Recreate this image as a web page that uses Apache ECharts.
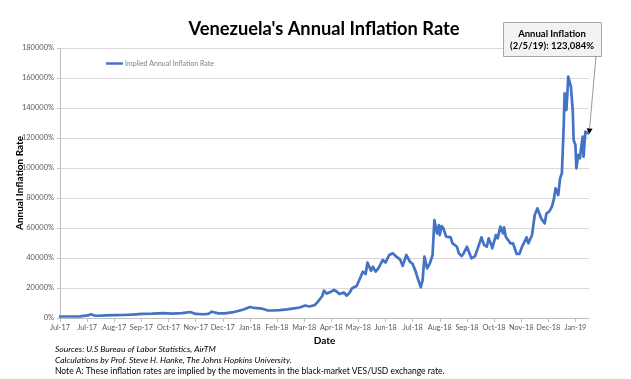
<!DOCTYPE html>
<html>
<head>
<meta charset="utf-8">
<script src="https://cdn.jsdelivr.net/npm/echarts@6/dist/echarts.min.js"></script>
<style>
html,body{margin:0;padding:0;background:#fff;}
#main{width:631px;height:379px;}
</style>
</head>
<body>
<div id="main"></div>
<script>
const tickLabels = ['Jul-17','Jul-17','Aug-17','Sep-17','Oct-17','Nov-17','Dec-17','Jan-18','Feb-18','Mar-18','Apr-18','May-18','Jun-18','Jul-18','Aug-18','Sep-18','Oct-18','Nov-18','Dec-18','Jan-19'];
const tickStepDays = 30;
// days since 1 Jul 2017
const dayOffsets = [0,11,22,31,34,39,43,50,61,69,
  80,91,102,114,124,135,144,150,158,164,
  168,175,182,190,197,203,210,215,223,230,
  236,243,251,257,265,271,276,282,285,290,
  292,295,299,303,306,309,314,317,320,323,
  328,331,335,338,340,344,346,349,352,357,
  360,364,368,372,376,379,383,387,390,393,
  396,399,401,403,406,409,412,414,415,417,
  419,420,422,424,427,429,432,434,436,439,
  441,444,446,450,452,455,459,462,466,469,
  472,474,477,478,482,484,487,490,491,493,
  495,498,501,505,508,511,516,518,522,525,
  528,532,536,538,541,544,546,548,551,553,
  555,557,558,560,561,562,564,565,567,568,
  570,571,573,575,576,578,579,581,584];
const inflationRates = [1000,1000,1100,1700,2500,1500,1500,1700,1900,2000,
  2300,2700,2900,3300,2900,3300,4000,2700,2500,2800,
  4200,3100,3100,3700,4700,5700,7300,6700,6300,5000,
  5000,5300,5800,6300,7000,8300,7700,8700,10700,14700,
  18300,16300,17300,18700,17700,16000,17000,14900,16700,19800,
  21300,25300,30900,29300,36900,31500,34200,30900,33100,38700,
  36900,42000,43100,40900,39100,34700,42000,37500,36000,31500,
  25800,20500,25300,40900,33100,36400,42000,65300,66000,56400,
  62000,55300,61300,59800,54200,53100,53800,49800,50900,47500,
  43100,41300,42700,47500,46400,39800,41300,46400,53800,48700,
  47500,53100,48700,46400,55300,53100,60900,56400,60500,54200,
  53100,49800,49800,42700,42700,47500,53800,49800,55300,68700,
  73100,66500,63100,69800,70900,74200,78700,86400,82000,93100,
  96500,127600,149800,138700,148700,160900,162000,154200,138700,118700,
  115300,99800,108700,106500,112000,120900,107500,124200,123084];
const seriesName = 'Implied Annual Inflation Rate';
const annotationLines = ['Annual Inflation', '(2/5/19): 123,084%'];
const footerLines = [
  'Sources: U.S Bureau of Labor Statistics, AirTM',
  'Calculations by Prof. Steve H. Hanke, The Johns Hopkins University.',
  'Note A: These inflation rates are implied by the movements in the black-market VES/USD exchange rate.'
];

const FONT = 'Lato, "Open Sans", sans-serif';
const tickDays = tickLabels.map((_, i) => i * tickStepDays);
const chart = echarts.init(document.getElementById('main'), null, {renderer: 'canvas'});

const option = {
  animation: false,
  backgroundColor: '#ffffff',
  textStyle: {fontFamily: FONT},
  grid: {left: 60, right: 42, top: 48, bottom: 61},
  legend: {
    data: [seriesName], left: 101, top: 55, icon: 'rect',
    itemWidth: 17, itemHeight: 2.5, itemGap: 2,
    textStyle: {fontSize: 7, color: '#7f7f7f', fontFamily: FONT, padding: [0,0,0,-3]}
  },
  xAxis: {
    type: 'value', min: 0, max: 585, interval: tickStepDays,
    axisLine: {show: true, lineStyle: {color: '#bfbfbf', width: 1}},
    axisTick: {show: true, length: 4, customValues: tickDays, lineStyle: {color: '#bfbfbf'}},
    axisLabel: {customValues: tickDays, formatter: v => tickLabels[Math.round(v / tickStepDays)] || '',
      fontSize: 7.3, color: '#595959', margin: 6, fontFamily: FONT, hideOverlap: false},
    splitLine: {show: false},
    name: 'Date', nameLocation: 'middle', nameGap: 18, nameMoveOverlap: false,
    nameTextStyle: {fontWeight: 'bold', fontSize: 10, color: '#000', fontFamily: FONT, verticalAlign: 'top'}
  },
  yAxis: {
    type: 'value', min: 0, max: 180000, interval: 20000,
    axisLine: {show: true, lineStyle: {color: '#bfbfbf', width: 1}},
    axisTick: {show: true, length: 3, lineStyle: {color: '#bfbfbf'}},
    axisLabel: {formatter: v => v + '%', fontSize: 7.5, color: '#595959', margin: 6, fontFamily: FONT},
    splitLine: {show: true, lineStyle: {color: '#d9d9d9', width: 1}},
    name: 'Annual Inflation Rate', nameLocation: 'middle', nameGap: 35, nameMoveOverlap: false,
    nameTextStyle: {fontWeight: 'bold', fontSize: 10, color: '#000', fontFamily: FONT}
  },
  series: [{
    name: seriesName, type: 'line', showSymbol: false, symbol: 'none',
    data: dayOffsets.map((d, i) => [d, inflationRates[i]]),
    lineStyle: {color: '#4472C4', width: 2.7, join: 'round', cap: 'round'},
    itemStyle: {color: '#4472C4'}
  }]
};
chart.setOption(option);

// annotation arrow end computed through the chart's own scales
const lastIdx = dayOffsets.length - 1;
const tip = chart.convertToPixel({seriesIndex: 0}, [dayOffsets[lastIdx], inflationRates[lastIdx]]);
const start = [596, 56];
const end = [tip[0] + 1, tip[1] + 1];
const dx = end[0] - start[0], dy = end[1] - start[1];
const len = Math.sqrt(dx * dx + dy * dy);
const ux = dx / len, uy = dy / len;
const headLen = 6, headHalf = 3;
const base = [end[0] - ux * headLen, end[1] - uy * headLen];
const px = -uy, py = ux;

chart.setOption({
  graphic: [
    {type: 'text', x: 324, y: 29, style: {text: "Venezuela's Annual Inflation Rate", fontFamily: FONT,
      fontSize: 18.3, fontWeight: 'bold', fill: '#000', textAlign: 'center', textVerticalAlign: 'middle'}},
    {type: 'rect', shape: {x: 503.5, y: 22.5, width: 98, height: 34},
      style: {fill: '#f2f2f2', stroke: '#a6a6a6', lineWidth: 1}},
    {type: 'text', x: 552, y: 34, style: {text: annotationLines[0], fontFamily: FONT, fontSize: 9.5,
      fontWeight: 'bold', fill: '#000', textAlign: 'center', textVerticalAlign: 'middle'}},
    {type: 'text', x: 552, y: 46, style: {text: annotationLines[1], fontFamily: FONT, fontSize: 9.5,
      fontWeight: 'bold', fill: '#000', textAlign: 'center', textVerticalAlign: 'middle'}},
    {type: 'line', shape: {x1: start[0], y1: start[1], x2: base[0], y2: base[1]},
      style: {stroke: '#7f7f7f', lineWidth: 0.8}},
    {type: 'polygon', shape: {points: [end, [base[0] + px * headHalf, base[1] + py * headHalf], [base[0] - px * headHalf, base[1] - py * headHalf]]},
      style: {fill: '#000'}},
    {type: 'text', x: 55, y: 349, style: {text: footerLines[0], fontFamily: FONT, fontSize: 8.5,
      fontStyle: 'italic', fill: '#000', textVerticalAlign: 'middle'}},
    {type: 'text', x: 55, y: 360, style: {text: footerLines[1], fontFamily: FONT, fontSize: 8.5,
      fontStyle: 'italic', fill: '#000', textVerticalAlign: 'middle'}},
    {type: 'text', x: 55, y: 371, style: {text: footerLines[2], fontFamily: FONT, fontSize: 8.5,
      fill: '#000', textVerticalAlign: 'middle'}}
  ]
});
</script>
</body>
</html>
